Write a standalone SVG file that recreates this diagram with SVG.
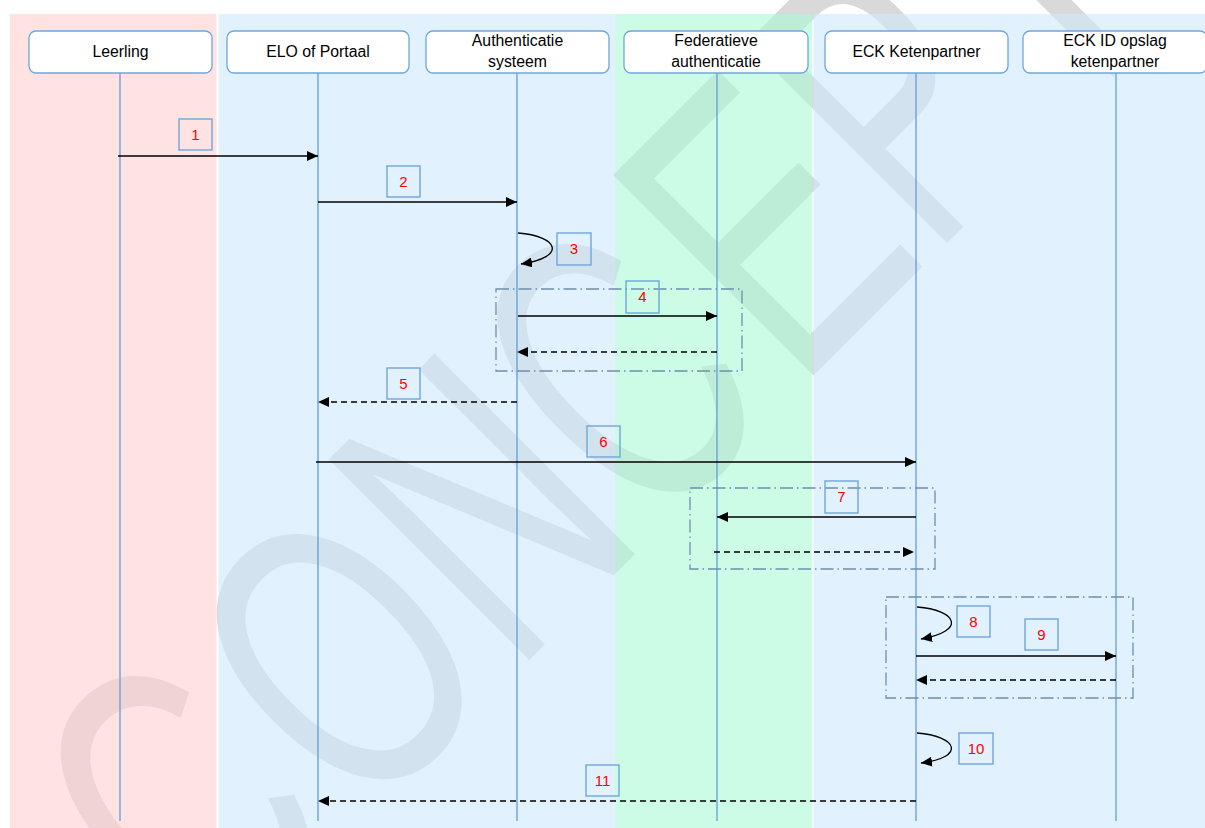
<svg xmlns="http://www.w3.org/2000/svg" width="1205" height="828" viewBox="0 0 1205 828">
<defs>
<marker id="ah" markerUnits="userSpaceOnUse" markerWidth="12" markerHeight="10" refX="11" refY="5" orient="auto"><path d="M0,0 L11,5 L0,10 z" fill="#000"/></marker>
<style>
.wm{font-family:"Liberation Sans",Arial,sans-serif;font-size:412px;fill:#d9d9d9;text-anchor:middle}
.lane{stroke:none}
.hdr rect{fill:#fff;stroke:#6fa6dc;stroke-width:1.3}
.hdr text{font-family:"Liberation Sans",Arial,sans-serif;font-size:15.8px;fill:#000;text-anchor:middle}
.life{stroke:#6aa3dc;stroke-width:1.4;fill:none}
.msg{stroke:#000;stroke-width:1.3;fill:none;marker-end:url(#ah)}
.dash{stroke-dasharray:6,4}
.grp{fill:none;stroke:#6e8fae;stroke-width:1.3;stroke-dasharray:13,4,1.5,4}
.lbl rect{fill:none;stroke:#6fa6dc;stroke-width:1.4}
.lbl text{font-family:"Liberation Sans",Arial,sans-serif;font-size:15px;fill:#ff0000;text-anchor:middle}
</style>
</defs>
<rect width="1205" height="828" fill="#fff"/>
<g id="watermark">
<text class="wm" transform="translate(282,907) rotate(-45) scale(0.66,1)">C</text>
<text class="wm" transform="translate(436,753) rotate(-45) scale(0.657,0.96)">O</text>
<text class="wm" transform="translate(582,607) rotate(-45) scale(0.651,1)">N</text>
<text class="wm" transform="translate(717,473) rotate(-45) scale(0.63,1)">C</text>
<text class="wm" transform="translate(864,325) rotate(-45) scale(0.69,1)">E</text>
<text class="wm" transform="translate(991,199) rotate(-45) scale(0.6,1)">P</text>
<text class="wm" transform="translate(1122,68) rotate(-45) scale(0.65,1)">T</text>
</g>
<g id="lanes" fill-opacity="0.6">
<rect class="lane" x="10" y="14" width="206.5" height="814" fill="#ffcfcf"/>
<rect class="lane" x="218.5" y="14" width="396.5" height="814" fill="#cde9fd"/>
<rect class="lane" x="615" y="14" width="197" height="814" fill="#aafad4"/>
<rect class="lane" x="813.5" y="14" width="391.5" height="814" fill="#cde9fd"/>
</g>
<g id="lifelines">
<line class="life" x1="120" y1="73" x2="120" y2="821"/>
<line class="life" x1="318" y1="73" x2="318" y2="821"/>
<line class="life" x1="517" y1="73" x2="517" y2="821"/>
<line class="life" x1="717" y1="73" x2="717" y2="821"/>
<line class="life" x1="916" y1="73" x2="916" y2="821"/>
<line class="life" x1="1116" y1="73" x2="1116" y2="821"/>
</g>
<g id="leerling" class="hdr"><rect x="29" y="31" width="183" height="42" rx="7"/><text x="120.5" y="57">Leerling</text></g>
<g id="elo" class="hdr"><rect x="227" y="31" width="182" height="42" rx="7"/><text x="318" y="57">ELO of Portaal</text></g>
<g id="auth" class="hdr"><rect x="426" y="31" width="183" height="42" rx="7"/><text x="517.5" y="46">Authenticatie</text><text x="517.5" y="67">systeem</text></g>
<g id="fed" class="hdr"><rect x="624" y="31" width="184" height="42" rx="7"/><text x="716" y="46">Federatieve</text><text x="716" y="67">authenticatie</text></g>
<g id="eck" class="hdr"><rect x="825" y="31" width="183" height="42" rx="7"/><text x="916.5" y="57">ECK Ketenpartner</text></g>
<g id="eckid" class="hdr"><rect x="1023" y="31" width="184" height="42" rx="7"/><text x="1115" y="46">ECK ID opslag</text><text x="1115" y="67">ketenpartner</text></g>
<g id="groups">
<rect class="grp" x="496" y="289" width="246" height="82"/>
<rect class="grp" x="690" y="488" width="245" height="81"/>
<rect class="grp" x="886" y="597" width="247" height="101"/>
</g>
<g id="connectors">
<path class="msg" d="M118,156 H318"/>
<path class="msg" d="M318,202 H517"/>
<path class="msg" d="M518,233 C558,236 568,257 521,264"/>
<path class="msg" d="M518,316 H717"/>
<path class="msg dash" d="M717,352 H517"/>
<path class="msg dash" d="M517,402 H318"/>
<path class="msg" d="M316,462 H916"/>
<path class="msg" d="M916,517 H717"/>
<path class="msg dash" d="M714,552 H914"/>
<path class="msg" d="M917,607 C957,610 967,631 921,639"/>
<path class="msg" d="M916,656 H1116"/>
<path class="msg dash" d="M1116,680 H916"/>
<path class="msg" d="M917,733 C957,736 967,757 921,763"/>
<path class="msg dash" d="M916,801 H318"/>
</g>
<g id="labels">
<g id="l1" class="lbl"><rect x="179" y="119" width="33" height="31"/><text x="195.5" y="140">1</text></g>
<g id="l2" class="lbl"><rect x="387" y="166" width="33" height="31"/><text x="403.5" y="187">2</text></g>
<g id="l3" class="lbl"><rect x="557" y="233" width="34" height="32"/><text x="574" y="254">3</text></g>
<g id="l4" class="lbl"><rect x="626" y="281" width="33" height="32"/><text x="642.5" y="302">4</text></g>
<g id="l5" class="lbl"><rect x="387" y="368" width="33" height="31"/><text x="403.5" y="389">5</text></g>
<g id="l6" class="lbl"><rect x="587" y="426" width="33" height="31"/><text x="603.5" y="447">6</text></g>
<g id="l7" class="lbl"><rect x="825" y="481" width="33" height="32"/><text x="841.5" y="502">7</text></g>
<g id="l8" class="lbl"><rect x="957" y="606" width="33" height="31"/><text x="973.5" y="627">8</text></g>
<g id="l9" class="lbl"><rect x="1025" y="619" width="33" height="31"/><text x="1041.5" y="640">9</text></g>
<g id="l10" class="lbl"><rect x="959" y="733" width="34" height="31"/><text x="976" y="754">10</text></g>
<g id="l11" class="lbl"><rect x="586" y="765" width="33" height="31"/><text x="602.5" y="786">11</text></g>
</g>
</svg>
